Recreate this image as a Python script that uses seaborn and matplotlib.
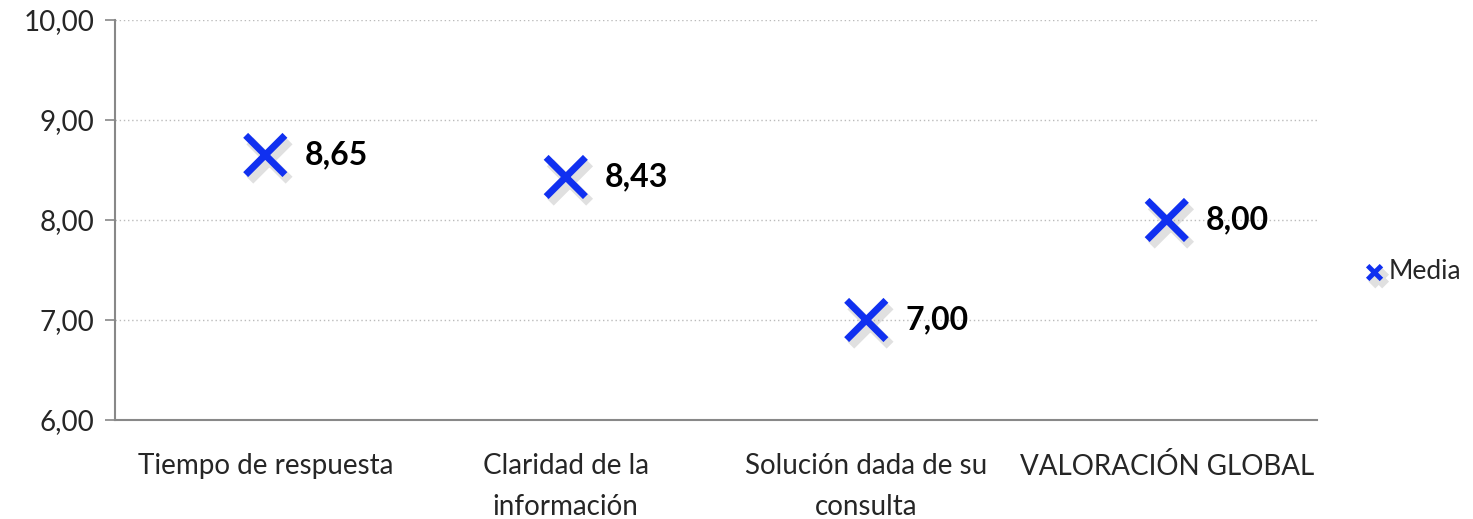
import pandas as pd
import matplotlib
matplotlib.use("Agg")
import matplotlib.pyplot as plt
import matplotlib.patheffects as pe
import seaborn as sns

categories = ["Tiempo de respuesta", "Claridad de la\ninformación",
              "Solución dada de su\nconsulta", "VALORACIÓN GLOBAL"]
media = [8.65, 8.43, 7.00, 8.00]
y_ticks = [6, 7, 8, 9, 10]

sns.set_theme(style="white")
plt.rcParams['font.family'] = ['Lato', 'DejaVu Sans']

df = pd.DataFrame({"categoria": categories, "Media": media})

fig = plt.figure(figsize=(14.73, 5.19), dpi=100)
ax = fig.add_axes([0.0781, 0.1908, 0.8160, 0.7707])

blue = "#1030F0"
sns.scatterplot(data=df, x="categoria", y="Media", marker="x", s=800,
                color=blue, linewidth=5, label="Media", ax=ax, zorder=3)
for coll in ax.collections:
    coll.set_path_effects([pe.SimpleLineShadow(offset=(3, -4), shadow_color="#999999", alpha=0.3,
                                               linewidth=7),
                           pe.Normal()])

# value labels
for i, v in enumerate(media):
    ax.text(i + 0.13, v, f"{v:.2f}".replace(".", ","), fontsize=23, fontweight="bold",
            va="center", ha="left", color="black")

ax.set_xlim(-0.5, 3.5)
ax.set_ylim(6, 10)
ax.set_yticks(y_ticks)
ax.set_yticklabels([f"{t:.2f}".replace(".", ",") for t in y_ticks], fontsize=20)
ax.set_xticks(range(len(categories)))
ax.set_xticklabels(categories, fontsize=20, linespacing=1.7)
ax.set_xticks([-0.5, 0.5, 1.5, 2.5, 3.5], minor=True)
ax.tick_params(axis="x", which="major", length=0, pad=24)
ax.tick_params(axis="x", which="minor", length=7, color="#888888", width=1.2, direction="out")
ax.tick_params(axis="y", length=7, color="#888888", width=1.2, direction="out", left=True, pad=8)
ax.set_xlabel("")
ax.set_ylabel("")

for y in y_ticks[1:]:
    ax.axhline(y, color="#BBBBBB", linestyle=(0, (1, 2)), linewidth=1, zorder=0)

for s in ["top", "right"]:
    ax.spines[s].set_visible(False)
for s in ["left", "bottom"]:
    ax.spines[s].set_color("#888888")
    ax.spines[s].set_linewidth(1.5)

leg = ax.legend(loc="center left", bbox_to_anchor=(1.038, 0.37), frameon=False,
                fontsize=19, handletextpad=0.1, handlelength=0.9, markerscale=0.35,
                borderpad=0, borderaxespad=0)
for h in leg.legend_handles:
    h.set_linewidth(3.5)

fig.savefig("out.png", dpi=100)
